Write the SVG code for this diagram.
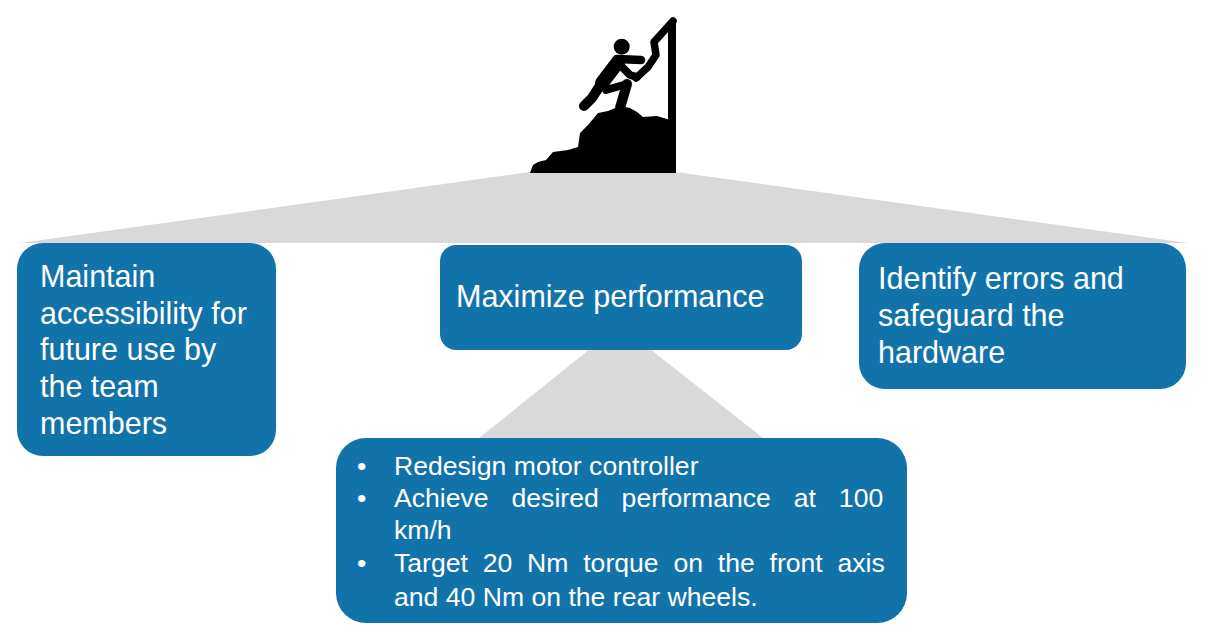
<svg xmlns="http://www.w3.org/2000/svg" width="1208" height="641" viewBox="0 0 1208 641">
<style>
.box{fill:#1273aa}
.fan{fill:#d9d9d9}
.t{font-family:"Liberation Sans",Arial,sans-serif;font-size:30.5px;fill:#ffffff}
.b{font-family:"Liberation Sans",Arial,sans-serif;font-size:26.6px;fill:#ffffff}
.ink{fill:#000}
.lim{fill:none;stroke:#000;stroke-linecap:round;stroke-linejoin:round}
</style>
<rect width="1208" height="641" fill="#ffffff"/>
<g id="connectors">
<polygon class="fan" points="530,172 676,172 1188,243 20,243"/>
<polygon class="fan" points="590,349 650,349 763,438 479,438"/>
</g>
<g id="climber">
<rect class="ink" x="668" y="21" width="8" height="152"/>
<polyline class="lim" stroke-width="7.5" points="673,21 654,42 656,55 648,67 636,78"/>
<polygon class="ink" points="530,173 533,165 538,162 546,160 553,152 568,150 578,147 580,133 588,125 598,113 608,111 620,106 630,108 637,112 643,117 657,116 667,119 676,121 676,173"/>
<circle class="ink" cx="621.7" cy="46.7" r="8"/>
<polyline class="lim" stroke-width="8.5" points="617,59 641,60"/>
<polyline class="lim" stroke-width="14" points="618,62 602,83"/>
<polyline class="lim" stroke-width="10" points="601,84 592,98 584,106"/>
<polyline class="lim" stroke-width="8" points="606,90 627,84"/>
<polyline class="lim" stroke-width="10" points="627,84 620,108"/>
<polyline class="lim" stroke-width="8" points="622,67 630,75 637,77"/>
</g>
<g id="node-left">
<rect class="box" x="17" y="243" width="259" height="213" rx="26"/>
<text class="t" x="40" y="287">Maintain</text>
<text class="t" x="40" y="324">accessibility for</text>
<text class="t" x="40" y="360">future use by</text>
<text class="t" x="40" y="397">the team</text>
<text class="t" x="40" y="434">members</text>
</g>
<g id="node-middle">
<rect class="box" x="440" y="245" width="362" height="105" rx="16"/>
<text class="t" x="456" y="307">Maximize performance</text>
</g>
<g id="node-right">
<rect class="box" x="859" y="243" width="327" height="146" rx="26"/>
<text class="t" x="878" y="289">Identify errors and</text>
<text class="t" x="878" y="326">safeguard the</text>
<text class="t" x="878" y="363">hardware</text>
</g>
<g id="node-bottom">
<rect class="box" x="336" y="438" width="571" height="185" rx="30"/>
<text class="b" x="357" y="475">•</text>
<text class="b" x="357" y="507">•</text>
<text class="b" x="357" y="572">•</text>
<text class="b" x="394" y="475">Redesign motor controller</text>
<text class="b" x="394" y="507" word-spacing="15.5">Achieve desired performance at 100</text>
<text class="b" x="394" y="539">km/h</text>
<text class="b" x="394" y="572" word-spacing="7.4">Target 20 Nm torque on the front axis</text>
<text class="b" x="394" y="606">and 40 Nm on the rear wheels.</text>
</g>
</svg>
